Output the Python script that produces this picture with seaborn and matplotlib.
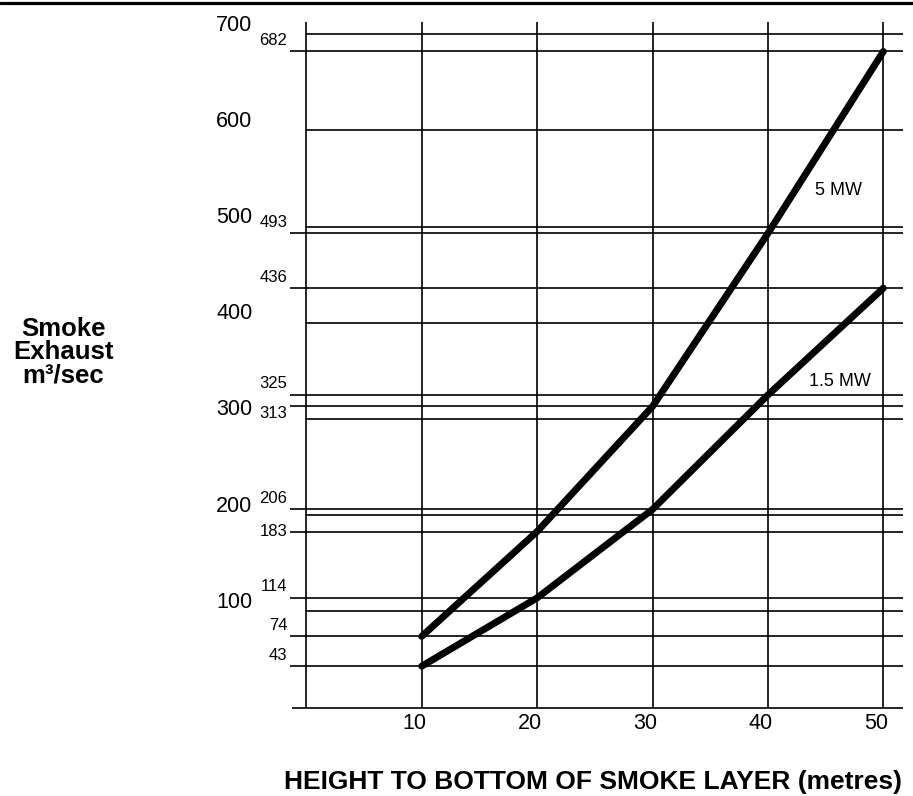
"""Smoke exhaust rate vs height to bottom of smoke layer."""

import matplotlib
matplotlib.use('Agg')
import matplotlib.pyplot as plt
from matplotlib.lines import Line2D
import numpy as np
import pandas as pd
import seaborn as sns

# Data
heights = [10, 20, 30, 40, 50]
exhaust_5mw = [74, 183, 313, 493, 682]
exhaust_15mw = [43, 114, 206, 325, 436]
fire_sizes = ['5 MW', '1.5 MW']
major_ticks = [100, 200, 300, 400, 500, 600, 700]

sns.set_style("white")
NARROW = ['Liberation Sans Narrow', 'Liberation Sans', 'DejaVu Sans']
BOLD = ['Liberation Sans', 'DejaVu Sans']
plt.rcParams['font.family'] = NARROW
plt.rcParams['text.color'] = 'black'

df = pd.DataFrame({
    'height': heights * 2,
    'exhaust': exhaust_5mw + exhaust_15mw,
    'fire': [fire_sizes[0]] * len(heights) + [fire_sizes[1]] * len(heights),
})

fig = plt.figure(figsize=(9.13, 7.96), dpi=100)
ax = fig.add_axes([0.3102, 0.099, 0.6826, 0.8883])
ax.set_xlim(-2, 52)
ax.set_ylim(-10, 725)
ax.axis('off')

grid_kw = dict(color='black', linewidth=1.2, zorder=1)
x_right = 51.7
y_top = 712.7

# frame: left axis, vertical grid, bottom axis
ax.vlines([0] + heights, 0, y_top, **grid_kw)
ax.hlines(0, -1.2, x_right, **grid_kw)

# round-number grid lines start at the axis
ax.hlines(major_ticks, 0, x_right, **grid_kw)

# value lines reach out to their small labels
values = sorted(set(exhaust_5mw + exhaust_15mw))
ax.hlines(values, -1.41, x_right, **grid_kw)

# curves
sns.lineplot(data=df, x='height', y='exhaust', hue='fire',
             palette={f: 'black' for f in fire_sizes}, linewidth=5,
             legend=False, errorbar=None, sort=False, ax=ax, zorder=3)

# big y labels
for t in major_ticks:
    ax.annotate(str(t), xy=(0, t), xytext=(-54, 9), textcoords='offset pixels',
                ha='right', va='center', fontsize=15.5, annotation_clip=False)

# small value labels
label_shift = {313: -7, 183: 0}
for v in values:
    ax.annotate(str(v), xy=(0, v), xytext=(-19, label_shift.get(v, 11)),
                textcoords='offset pixels', ha='right', va='center',
                fontsize=12, annotation_clip=False)

# x tick labels
for h in heights:
    ax.annotate(str(h), xy=(h, 0), xytext=(-7, -16), textcoords='offset pixels',
                ha='center', va='center', fontsize=15.5, annotation_clip=False)

# curve labels
ax.text(44.08, 537, '5 MW', ha='left', va='center', fontsize=13)
ax.text(43.6, 338.5, '1.5 MW', ha='left', va='center', fontsize=13)

# axis titles
fig.text(593 / 913, 1 - 782 / 796, 'HEIGHT TO BOTTOM OF SMOKE LAYER (metres)',
         ha='center', va='center', fontsize=19, fontweight='bold', family=BOLD)
fig.text(63 / 913, 1 - 352 / 796, 'Smoke\nExhaust\nm³/sec', ha='center',
         va='center', multialignment='center', linespacing=0.97,
         fontsize=18.5, fontweight='bold', family=BOLD)

# top rule
fig.add_artist(Line2D([0, 1], [1 - 2.5 / 796, 1 - 2.5 / 796],
                      transform=fig.transFigure, color='black', linewidth=2.3))

fig.savefig('out.png', dpi=100)
plt.close(fig)
